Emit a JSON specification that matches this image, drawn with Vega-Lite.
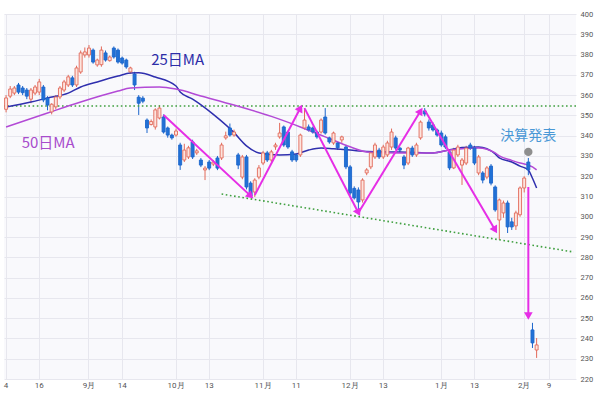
{
  "$schema": "https://vega.github.io/schema/vega-lite/v6.json",
  "width": 572,
  "height": 365,
  "autosize": {"type": "none"},
  "padding": {"left": 4, "right": 24, "top": 14, "bottom": 14},
  "background": "#ffffff",
  "config": {
    "view": {"stroke": null, "fill": "#f9f9fc"},
    "font": "Roboto",
    "axis": {"title": null, "domain": false, "ticks": false, "gridColor": "#e7e7ee", "gridWidth": 1, "labelColor": "#555555", "labelFontSize": 8, "labelFont": "Roboto", "labelOverlap": false}
  },
  "datasets": {
    "ohlc": [
      {"d":"2021-08-04","o":353,"h":360,"l":351.5,"c":358.6},
      {"d":"2021-08-05","o":359.5,"h":364.5,"l":358.5,"c":363},
      {"d":"2021-08-06","o":361,"h":364.5,"l":360,"c":363.5},
      {"d":"2021-08-09","o":365,"h":366,"l":360.5,"c":361.5},
      {"d":"2021-08-10","o":363.5,"h":364.5,"l":360,"c":361.2},
      {"d":"2021-08-11","o":362.5,"h":363.5,"l":358,"c":359.5},
      {"d":"2021-08-12","o":358,"h":363.5,"l":356,"c":362.5},
      {"d":"2021-08-13","o":361,"h":365,"l":360,"c":364},
      {"d":"2021-08-16","o":361.5,"h":368,"l":360,"c":366.5},
      {"d":"2021-08-17","o":364,"h":365,"l":356.5,"c":357.6},
      {"d":"2021-08-18","o":358.6,"h":359.5,"l":352.5,"c":355.1},
      {"d":"2021-08-19","o":351.7,"h":356,"l":350.5,"c":355.5},
      {"d":"2021-08-20","o":354.2,"h":360,"l":353,"c":359.1},
      {"d":"2021-08-23","o":359.1,"h":364.5,"l":358,"c":363.5},
      {"d":"2021-08-24","o":362.5,"h":367.5,"l":361.5,"c":366.5},
      {"d":"2021-08-25","o":365,"h":370,"l":364,"c":369},
      {"d":"2021-08-26","o":368.5,"h":369.5,"l":364,"c":365},
      {"d":"2021-08-27","o":365,"h":374.5,"l":364,"c":373.4},
      {"d":"2021-08-30","o":371.4,"h":382,"l":370.5,"c":380.8},
      {"d":"2021-08-31","o":379.8,"h":383.5,"l":378.5,"c":381.3},
      {"d":"2021-09-01","o":379.8,"h":384.7,"l":378.5,"c":383.2},
      {"d":"2021-09-02","o":382.2,"h":383,"l":375.5,"c":376.3},
      {"d":"2021-09-03","o":374.9,"h":378,"l":374,"c":377.3},
      {"d":"2021-09-07","o":375,"h":384,"l":374,"c":382.2},
      {"d":"2021-09-08","o":380.8,"h":382,"l":376.5,"c":377.3},
      {"d":"2021-09-09","o":377,"h":379.5,"l":376.5,"c":378.8},
      {"d":"2021-09-10","o":383.2,"h":384,"l":378,"c":378.8},
      {"d":"2021-09-13","o":382.2,"h":383,"l":375.5,"c":376.3},
      {"d":"2021-09-14","o":378.3,"h":379,"l":375,"c":375.8},
      {"d":"2021-09-15","o":377.3,"h":378,"l":373,"c":373.9},
      {"d":"2021-09-16","o":371.4,"h":374,"l":370.5,"c":373.4},
      {"d":"2021-09-17","o":370.4,"h":371.5,"l":362.5,"c":365},
      {"d":"2021-09-20","o":359,"h":360,"l":350.2,"c":356},
      {"d":"2021-09-21","o":358.5,"h":359.5,"l":356,"c":357},
      {"d":"2021-09-22","o":347.7,"h":348.5,"l":341.3,"c":343.8},
      {"d":"2021-09-23","o":345.5,"h":348,"l":345,"c":347},
      {"d":"2021-09-24","o":344.3,"h":353.5,"l":343,"c":352.7},
      {"d":"2021-09-27","o":348.7,"h":355,"l":348,"c":353.6},
      {"d":"2021-09-28","o":349.2,"h":350.5,"l":341,"c":341.8},
      {"d":"2021-09-29","o":343.8,"h":344.5,"l":339,"c":340.3},
      {"d":"2021-09-30","o":340.3,"h":341,"l":338,"c":338.9},
      {"d":"2021-10-01","o":340.3,"h":343.5,"l":339.5,"c":342.3},
      {"d":"2021-10-04","o":335.4,"h":336.5,"l":323.1,"c":325.5},
      {"d":"2021-10-05","o":328,"h":336,"l":327,"c":332.9},
      {"d":"2021-10-06","o":329.5,"h":335,"l":328.5,"c":334},
      {"d":"2021-10-07","o":336.9,"h":338,"l":328.5,"c":329.5},
      {"d":"2021-10-08","o":331.5,"h":333.5,"l":330.5,"c":332.5},
      {"d":"2021-10-11","o":328,"h":329,"l":324.5,"c":325.5},
      {"d":"2021-10-12","o":323.1,"h":325,"l":318.1,"c":324},
      {"d":"2021-10-13","o":327,"h":328,"l":323,"c":324},
      {"d":"2021-10-14","o":326,"h":328,"l":325,"c":327},
      {"d":"2021-10-15","o":329,"h":330,"l":323,"c":324},
      {"d":"2021-10-18","o":329,"h":336.5,"l":328,"c":335.4},
      {"d":"2021-10-19","o":338.9,"h":342,"l":338,"c":339.9},
      {"d":"2021-10-20","o":343.8,"h":346,"l":339.5,"c":340.3},
      {"d":"2021-10-21","o":340.3,"h":343,"l":339.5,"c":341.8},
      {"d":"2021-10-22","o":330.5,"h":331.5,"l":323.5,"c":325.5},
      {"d":"2021-10-25","o":319.6,"h":330.5,"l":318.5,"c":329.5},
      {"d":"2021-10-26","o":329.5,"h":330.5,"l":313.5,"c":314.7},
      {"d":"2021-10-27","o":316.6,"h":317.5,"l":309.8,"c":310.2},
      {"d":"2021-10-28","o":312.2,"h":319,"l":309.8,"c":318.1},
      {"d":"2021-10-29","o":319.6,"h":325.5,"l":318.5,"c":324.1},
      {"d":"2021-11-01","o":326.5,"h":332.5,"l":325.5,"c":331.5},
      {"d":"2021-11-02","o":331.5,"h":332.5,"l":327,"c":328},
      {"d":"2021-11-03","o":328,"h":333,"l":327,"c":332},
      {"d":"2021-11-04","o":334.5,"h":336.5,"l":333,"c":335.4},
      {"d":"2021-11-05","o":339.4,"h":346.3,"l":338.5,"c":341.3},
      {"d":"2021-11-08","o":344.3,"h":345,"l":334.5,"c":335.4},
      {"d":"2021-11-09","o":341.8,"h":342.5,"l":333.5,"c":334.4},
      {"d":"2021-11-10","o":332,"h":333,"l":327,"c":328},
      {"d":"2021-11-11","o":330.5,"h":331,"l":327,"c":328},
      {"d":"2021-11-12","o":330.5,"h":341,"l":329.5,"c":340.3},
      {"d":"2021-11-15","o":343.8,"h":353.6,"l":343,"c":347.7},
      {"d":"2021-11-16","o":344.3,"h":345.5,"l":342,"c":342.8},
      {"d":"2021-11-17","o":343.8,"h":344.5,"l":341,"c":341.8},
      {"d":"2021-11-18","o":341.8,"h":342.5,"l":338.5,"c":339.4},
      {"d":"2021-11-19","o":341.8,"h":348.5,"l":341,"c":347.7},
      {"d":"2021-11-22","o":349.2,"h":353.6,"l":340.5,"c":341.3},
      {"d":"2021-11-23","o":338.9,"h":339.5,"l":336,"c":336.9},
      {"d":"2021-11-24","o":336.4,"h":342,"l":335.5,"c":341.3},
      {"d":"2021-11-26","o":336.4,"h":337,"l":333,"c":334},
      {"d":"2021-11-29","o":337.9,"h":340,"l":336.5,"c":339.4},
      {"d":"2021-11-30","o":334.4,"h":335.5,"l":323.5,"c":324.6},
      {"d":"2021-12-01","o":324.6,"h":325.5,"l":310.5,"c":311.7},
      {"d":"2021-12-02","o":314,"h":315,"l":308.5,"c":309.3},
      {"d":"2021-12-03","o":313.2,"h":314.5,"l":301.9,"c":307.3},
      {"d":"2021-12-06","o":308.3,"h":319,"l":307,"c":318.1},
      {"d":"2021-12-07","o":321.6,"h":324,"l":320.5,"c":323.1},
      {"d":"2021-12-08","o":324.6,"h":332.5,"l":323.5,"c":331.5},
      {"d":"2021-12-09","o":329.5,"h":336.5,"l":328.5,"c":335.4},
      {"d":"2021-12-10","o":332.9,"h":334,"l":328.5,"c":329.5},
      {"d":"2021-12-13","o":329.5,"h":335.5,"l":328.5,"c":334.4},
      {"d":"2021-12-14","o":330.5,"h":337.5,"l":329.5,"c":336.4},
      {"d":"2021-12-15","o":334.4,"h":343.5,"l":333,"c":341.8},
      {"d":"2021-12-16","o":338.9,"h":340,"l":333,"c":333.9},
      {"d":"2021-12-17","o":333.9,"h":334.5,"l":331.5,"c":332.9},
      {"d":"2021-12-20","o":329.5,"h":330.5,"l":323.5,"c":325.5},
      {"d":"2021-12-21","o":326.5,"h":334.5,"l":325.5,"c":333.9},
      {"d":"2021-12-22","o":333.9,"h":335,"l":329.5,"c":330.5},
      {"d":"2021-12-23","o":330.5,"h":336.5,"l":329.5,"c":335.4},
      {"d":"2021-12-27","o":338.9,"h":347.5,"l":338,"c":346.7},
      {"d":"2021-12-28","o":352.2,"h":353.6,"l":349.5,"c":350.7},
      {"d":"2021-12-29","o":346.7,"h":348,"l":342.5,"c":343.8},
      {"d":"2021-12-30","o":345.3,"h":346.5,"l":342,"c":342.8},
      {"d":"2021-12-31","o":342.8,"h":343.5,"l":339.5,"c":340.3},
      {"d":"2022-01-03","o":341.3,"h":342.5,"l":334.5,"c":335.4},
      {"d":"2022-01-04","o":339.4,"h":340.5,"l":333.5,"c":334.4},
      {"d":"2022-01-05","o":332,"h":333,"l":323,"c":324.1},
      {"d":"2022-01-06","o":324.1,"h":334,"l":323.5,"c":332.9},
      {"d":"2022-01-07","o":330.5,"h":335.5,"l":329.5,"c":334.4},
      {"d":"2022-01-10","o":325.5,"h":329,"l":315.7,"c":328},
      {"d":"2022-01-11","o":326.5,"h":335,"l":325.5,"c":333.9},
      {"d":"2022-01-12","o":335.4,"h":336.5,"l":333,"c":333.9},
      {"d":"2022-01-13","o":333.9,"h":335,"l":325.5,"c":326.5},
      {"d":"2022-01-14","o":321.6,"h":330.5,"l":320.5,"c":329.5},
      {"d":"2022-01-18","o":321.6,"h":322.5,"l":316.5,"c":318.1},
      {"d":"2022-01-19","o":319.6,"h":325,"l":318.5,"c":324.1},
      {"d":"2022-01-20","o":325,"h":326,"l":315.5,"c":316.6},
      {"d":"2022-01-21","o":314.7,"h":315.5,"l":302.5,"c":303.4},
      {"d":"2022-01-24","o":298.4,"h":309,"l":288.6,"c":308.3},
      {"d":"2022-01-25","o":301.9,"h":308,"l":299.5,"c":306.8},
      {"d":"2022-01-26","o":306.8,"h":308,"l":292,"c":295},
      {"d":"2022-01-27","o":297.5,"h":299.5,"l":293.5,"c":295},
      {"d":"2022-01-28","o":295.5,"h":303,"l":293.5,"c":301.9},
      {"d":"2022-01-31","o":301,"h":315,"l":300,"c":314.2},
      {"d":"2022-02-01","o":314.2,"h":320,"l":312,"c":319.1},
      {"d":"2022-02-02","o":327,"h":329,"l":320.5,"c":323.1},
      {"d":"2022-02-03","o":244.2,"h":247.7,"l":235.3,"c":237.8},
      {"d":"2022-02-04","o":234.3,"h":240.2,"l":230.4,"c":236.8}
    ],
    "ma": [
      {"k":"25日MA","d":"2021-08-04","v":354.1},
      {"k":"25日MA","d":"2021-08-12","v":356.6},
      {"k":"25日MA","d":"2021-08-18","v":358.6},
      {"k":"25日MA","d":"2021-08-25","v":361.0},
      {"k":"25日MA","d":"2021-08-30","v":364.0},
      {"k":"25日MA","d":"2021-09-03","v":366.5},
      {"k":"25日MA","d":"2021-09-13","v":369.4},
      {"k":"25日MA","d":"2021-09-16","v":370.9},
      {"k":"25日MA","d":"2021-09-20","v":371.0},
      {"k":"25日MA","d":"2021-09-24","v":368.9},
      {"k":"25日MA","d":"2021-10-01","v":364.5},
      {"k":"25日MA","d":"2021-10-04","v":361.5},
      {"k":"25日MA","d":"2021-10-07","v":358.0},
      {"k":"25日MA","d":"2021-10-14","v":350.5},
      {"k":"25日MA","d":"2021-10-21","v":341.5},
      {"k":"25日MA","d":"2021-10-26","v":335.0},
      {"k":"25日MA","d":"2021-10-29","v":331.5},
      {"k":"25日MA","d":"2021-11-05","v":330.5},
      {"k":"25日MA","d":"2021-11-11","v":331.0},
      {"k":"25日MA","d":"2021-11-16","v":332.9},
      {"k":"25日MA","d":"2021-11-19","v":333.9},
      {"k":"25日MA","d":"2021-11-24","v":333.5},
      {"k":"25日MA","d":"2021-12-01","v":332.9},
      {"k":"25日MA","d":"2021-12-07","v":332.2},
      {"k":"25日MA","d":"2021-12-13","v":332.0},
      {"k":"25日MA","d":"2021-12-17","v":332.0},
      {"k":"25日MA","d":"2021-12-30","v":331.5},
      {"k":"25日MA","d":"2022-01-05","v":333.0},
      {"k":"25日MA","d":"2022-01-10","v":334.2},
      {"k":"25日MA","d":"2022-01-14","v":334.4},
      {"k":"25日MA","d":"2022-01-21","v":331.0},
      {"k":"25日MA","d":"2022-01-24","v":329.0},
      {"k":"25日MA","d":"2022-01-27","v":327.0},
      {"k":"25日MA","d":"2022-01-31","v":325.0},
      {"k":"25日MA","d":"2022-02-02","v":323.1},
      {"k":"25日MA","d":"2022-02-03","v":319.0},
      {"k":"25日MA","d":"2022-02-04","v":314.2},
      {"k":"50日MA","d":"2021-08-04","v":344.3},
      {"k":"50日MA","d":"2021-08-18","v":351.2},
      {"k":"50日MA","d":"2021-08-30","v":356.6},
      {"k":"50日MA","d":"2021-09-13","v":362.0},
      {"k":"50日MA","d":"2021-09-16","v":363.5},
      {"k":"50日MA","d":"2021-09-27","v":364.0},
      {"k":"50日MA","d":"2021-10-01","v":363.0},
      {"k":"50日MA","d":"2021-10-11","v":359.6},
      {"k":"50日MA","d":"2021-10-21","v":355.1},
      {"k":"50日MA","d":"2021-11-03","v":349.5},
      {"k":"50日MA","d":"2021-11-12","v":344.3},
      {"k":"50日MA","d":"2021-11-22","v":339.4},
      {"k":"50日MA","d":"2021-12-01","v":334.5},
      {"k":"50日MA","d":"2021-12-07","v":332.0},
      {"k":"50日MA","d":"2021-12-17","v":331.5},
      {"k":"50日MA","d":"2021-12-30","v":331.5},
      {"k":"50日MA","d":"2022-01-05","v":332.9},
      {"k":"50日MA","d":"2022-01-14","v":333.9},
      {"k":"50日MA","d":"2022-01-21","v":331.5},
      {"k":"50日MA","d":"2022-01-24","v":330.0},
      {"k":"50日MA","d":"2022-01-27","v":327.8},
      {"k":"50日MA","d":"2022-01-31","v":326.5},
      {"k":"50日MA","d":"2022-02-02","v":325.5},
      {"k":"50日MA","d":"2022-02-03","v":324.6},
      {"k":"50日MA","d":"2022-02-04","v":323.1}
    ],
    "levels": [{"v": 354.6}],
    "trend": [{"d":"2021-10-18","v":311.2},{"d":"2022-02-17","v":282.6}],
    "arrows": [
      {"seg":"a","d":"2021-09-28","v":350.2,"tip":false},
      {"seg":"a","d":"2021-10-27","v":310.3,"tip":true},
      {"seg":"b","d":"2021-10-28","v":310.7,"tip":false},
      {"seg":"b","d":"2021-11-12","v":353.6,"tip":true},
      {"seg":"c","d":"2021-11-15","v":353.6,"tip":false},
      {"seg":"c","d":"2021-12-03","v":302.0,"tip":true},
      {"seg":"d","d":"2021-12-03","v":302.0,"tip":false},
      {"seg":"d","d":"2021-12-27","v":352.2,"tip":true},
      {"seg":"e","d":"2021-12-28","v":352.7,"tip":false},
      {"seg":"e","d":"2022-01-21","v":293.5,"tip":true},
      {"seg":"f","d":"2022-02-02","v":314.7,"tip":false},
      {"seg":"f","d":"2022-02-02","v":251.1,"tip":true}
    ],
    "events": [{"d":"2022-02-02","v":332}],
    "notes": [
      {"t":"25日MA","d":"2021-09-23","v":377.3},
      {"t":"50日MA","d":"2021-08-10","v":336.4},
      {"t":"決算発表","d":"2022-02-02","v":339.8}
    ]
  },
  "layer": [
    {
      "data": {"name": "ohlc"},
      "mark": {"type": "rule", "strokeWidth": 1},
      "encoding": {
        "x": {
          "field": "d", "type": "ordinal",
          "scale": {"type": "band", "paddingInner": 0, "paddingOuter": 0,
            "domain": {"unionWith": ["2022-02-07","2022-02-08","2022-02-09","2022-02-10","2022-02-11","2022-02-14","2022-02-15","2022-02-16","2022-02-17"]}},
          "axis": {
            "values": ["2021-08-04","2021-08-16","2021-09-01","2021-09-14","2021-10-01","2021-10-13","2021-11-01","2021-11-11","2021-12-01","2021-12-13","2022-01-03","2022-01-13","2022-02-01","2022-02-09"],
            "labelExpr": "toNumber(substring(datum.value,8,10)) <= 3 ? toNumber(substring(datum.value,5,7)) + '月' : '' + toNumber(substring(datum.value,8,10))",
            "labelAngle": 0, "grid": true, "labelPadding": 2, "bandPosition": 0.5
          }
        },
        "y": {
          "field": "l", "type": "quantitative",
          "scale": {"domain": [220, 400], "nice": false, "zero": false},
          "axis": {"orient": "right", "values": [220,230,240,250,260,270,280,290,300,310,320,330,340,350,360,370,380,390,400], "grid": true, "labelPadding": 4, "labelFontSize": 7.5, "labelOverlap": false}
        },
        "y2": {"field": "h"},
        "color": {"condition": {"test": "datum.c > datum.o", "value": "#e26a5a"}, "value": "#1d66cc"}
      }
    },
    {
      "data": {"name": "levels"},
      "mark": {"type": "rule", "color": "#3f9f3f", "strokeWidth": 1.6, "strokeDash": [1.6, 2.6]},
      "encoding": {"y": {"field": "v", "type": "quantitative", "axis": {"orient": "right", "values": [220,230,240,250,260,270,280,290,300,310,320,330,340,350,360,370,380,390,400], "grid": true, "labelPadding": 4, "labelFontSize": 7.5, "labelOverlap": false}}}
    },
    {
      "data": {"name": "trend"},
      "mark": {"type": "line", "color": "#3f9f3f", "strokeWidth": 1.6, "strokeDash": [1.6, 2.6]},
      "encoding": {"x": {"field": "d", "type": "ordinal"}, "y": {"field": "v", "type": "quantitative", "axis": {"orient": "right", "values": [220,230,240,250,260,270,280,290,300,310,320,330,340,350,360,370,380,390,400], "grid": true, "labelPadding": 4, "labelFontSize": 7.5, "labelOverlap": false}}}
    },
    {
      "data": {"name": "ma"},
      "mark": {"type": "line", "strokeWidth": 1.5, "interpolate": "monotone"},
      "encoding": {
        "x": {"field": "d", "type": "ordinal"},
        "y": {"field": "v", "type": "quantitative", "axis": {"orient": "right", "values": [220,230,240,250,260,270,280,290,300,310,320,330,340,350,360,370,380,390,400], "grid": true, "labelPadding": 4, "labelFontSize": 7.5, "labelOverlap": false}},
        "color": {"field": "k", "type": "nominal", "scale": {"domain": ["25日MA", "50日MA"], "range": ["#2f2fae", "#b34ad6"]}, "legend": null}
      }
    },
    {
      "data": {"name": "ohlc"},
      "mark": {"type": "bar", "width": {"band": 0.72}, "strokeWidth": 0.9},
      "encoding": {
        "x": {"field": "d", "type": "ordinal"},
        "y": {"field": "o", "type": "quantitative", "axis": {"orient": "right", "values": [220,230,240,250,260,270,280,290,300,310,320,330,340,350,360,370,380,390,400], "grid": true, "labelPadding": 4, "labelFontSize": 7.5, "labelOverlap": false}},
        "y2": {"field": "c"},
        "fill": {"condition": {"test": "datum.c > datum.o", "value": "#fde4de"}, "value": "#2171d6"},
        "stroke": {"condition": {"test": "datum.c > datum.o", "value": "#e26a5a"}, "value": "#1d66cc"}
      }
    },
    {
      "data": {"name": "arrows"},
      "mark": {"type": "line", "color": "#e62ee6", "strokeWidth": 2},
      "encoding": {"x": {"field": "d", "type": "ordinal"}, "y": {"field": "v", "type": "quantitative", "axis": {"orient": "right", "values": [220,230,240,250,260,270,280,290,300,310,320,330,340,350,360,370,380,390,400], "grid": true, "labelPadding": 4, "labelFontSize": 7.5, "labelOverlap": false}}, "detail": {"field": "seg"}}
    },
    {
      "data": {"name": "arrows"},
      "transform": [{"filter": "datum.tip && datum.seg == 'a'"}],
      "mark": {"type": "point", "shape": "triangle-up", "angle": 133, "filled": true, "size": 75, "color": "#e62ee6", "opacity": 1},
      "encoding": {"x": {"field": "d", "type": "ordinal"}, "y": {"field": "v", "type": "quantitative", "axis": {"orient": "right", "values": [220,230,240,250,260,270,280,290,300,310,320,330,340,350,360,370,380,390,400], "grid": true, "labelPadding": 4, "labelFontSize": 7.5, "labelOverlap": false}}}
    },
    {
      "data": {"name": "arrows"},
      "transform": [{"filter": "datum.tip && datum.seg == 'b'"}],
      "mark": {"type": "point", "shape": "triangle-up", "angle": 28, "filled": true, "size": 75, "color": "#e62ee6", "opacity": 1},
      "encoding": {"x": {"field": "d", "type": "ordinal"}, "y": {"field": "v", "type": "quantitative", "axis": {"orient": "right", "values": [220,230,240,250,260,270,280,290,300,310,320,330,340,350,360,370,380,390,400], "grid": true, "labelPadding": 4, "labelFontSize": 7.5, "labelOverlap": false}}}
    },
    {
      "data": {"name": "arrows"},
      "transform": [{"filter": "datum.tip && datum.seg == 'c'"}],
      "mark": {"type": "point", "shape": "triangle-up", "angle": 153, "filled": true, "size": 75, "color": "#e62ee6", "opacity": 1},
      "encoding": {"x": {"field": "d", "type": "ordinal"}, "y": {"field": "v", "type": "quantitative", "axis": {"orient": "right", "values": [220,230,240,250,260,270,280,290,300,310,320,330,340,350,360,370,380,390,400], "grid": true, "labelPadding": 4, "labelFontSize": 7.5, "labelOverlap": false}}}
    },
    {
      "data": {"name": "arrows"},
      "transform": [{"filter": "datum.tip && datum.seg == 'd'"}],
      "mark": {"type": "point", "shape": "triangle-up", "angle": 31, "filled": true, "size": 75, "color": "#e62ee6", "opacity": 1},
      "encoding": {"x": {"field": "d", "type": "ordinal"}, "y": {"field": "v", "type": "quantitative", "axis": {"orient": "right", "values": [220,230,240,250,260,270,280,290,300,310,320,330,340,350,360,370,380,390,400], "grid": true, "labelPadding": 4, "labelFontSize": 7.5, "labelOverlap": false}}}
    },
    {
      "data": {"name": "arrows"},
      "transform": [{"filter": "datum.tip && datum.seg == 'e'"}],
      "mark": {"type": "point", "shape": "triangle-up", "angle": 150, "filled": true, "size": 75, "color": "#e62ee6", "opacity": 1},
      "encoding": {"x": {"field": "d", "type": "ordinal"}, "y": {"field": "v", "type": "quantitative", "axis": {"orient": "right", "values": [220,230,240,250,260,270,280,290,300,310,320,330,340,350,360,370,380,390,400], "grid": true, "labelPadding": 4, "labelFontSize": 7.5, "labelOverlap": false}}}
    },
    {
      "data": {"name": "arrows"},
      "transform": [{"filter": "datum.tip && datum.seg == 'f'"}],
      "mark": {"type": "point", "shape": "triangle-up", "angle": 180, "filled": true, "size": 75, "color": "#e62ee6", "opacity": 1},
      "encoding": {"x": {"field": "d", "type": "ordinal"}, "y": {"field": "v", "type": "quantitative", "axis": {"orient": "right", "values": [220,230,240,250,260,270,280,290,300,310,320,330,340,350,360,370,380,390,400], "grid": true, "labelPadding": 4, "labelFontSize": 7.5, "labelOverlap": false}}}
    },
    {
      "data": {"name": "events"},
      "mark": {"type": "circle", "size": 70, "color": "#8e8e8e", "opacity": 1},
      "encoding": {"x": {"field": "d", "type": "ordinal"}, "y": {"field": "v", "type": "quantitative", "axis": {"orient": "right", "values": [220,230,240,250,260,270,280,290,300,310,320,330,340,350,360,370,380,390,400], "grid": true, "labelPadding": 4, "labelFontSize": 7.5, "labelOverlap": false}}}
    },
    {
      "data": {"name": "notes"},
      "transform": [{"filter": "datum.t == '25日MA'"}],
      "mark": {"type": "text", "align": "left", "baseline": "middle", "font": "Noto Sans CJK JP", "fontSize": 15, "color": "#2d2da8"},
      "encoding": {"x": {"field": "d", "type": "ordinal"}, "y": {"field": "v", "type": "quantitative", "axis": {"orient": "right", "values": [220,230,240,250,260,270,280,290,300,310,320,330,340,350,360,370,380,390,400], "grid": true, "labelPadding": 4, "labelFontSize": 7.5, "labelOverlap": false}}, "text": {"field": "t"}}
    },
    {
      "data": {"name": "notes"},
      "transform": [{"filter": "datum.t == '50日MA'"}],
      "mark": {"type": "text", "align": "left", "baseline": "middle", "dx": -1, "font": "Noto Sans CJK JP", "fontSize": 15, "color": "#a84ccc"},
      "encoding": {"x": {"field": "d", "type": "ordinal"}, "y": {"field": "v", "type": "quantitative", "axis": {"orient": "right", "values": [220,230,240,250,260,270,280,290,300,310,320,330,340,350,360,370,380,390,400], "grid": true, "labelPadding": 4, "labelFontSize": 7.5, "labelOverlap": false}}, "text": {"field": "t"}}
    },
    {
      "data": {"name": "notes"},
      "transform": [{"filter": "datum.t == '決算発表'"}],
      "mark": {"type": "text", "align": "center", "baseline": "middle", "font": "Noto Sans CJK JP", "fontSize": 14, "color": "#4a98d6"},
      "encoding": {"x": {"field": "d", "type": "ordinal"}, "y": {"field": "v", "type": "quantitative", "axis": {"orient": "right", "values": [220,230,240,250,260,270,280,290,300,310,320,330,340,350,360,370,380,390,400], "grid": true, "labelPadding": 4, "labelFontSize": 7.5, "labelOverlap": false}}, "text": {"field": "t"}}
    }
  ]
}
